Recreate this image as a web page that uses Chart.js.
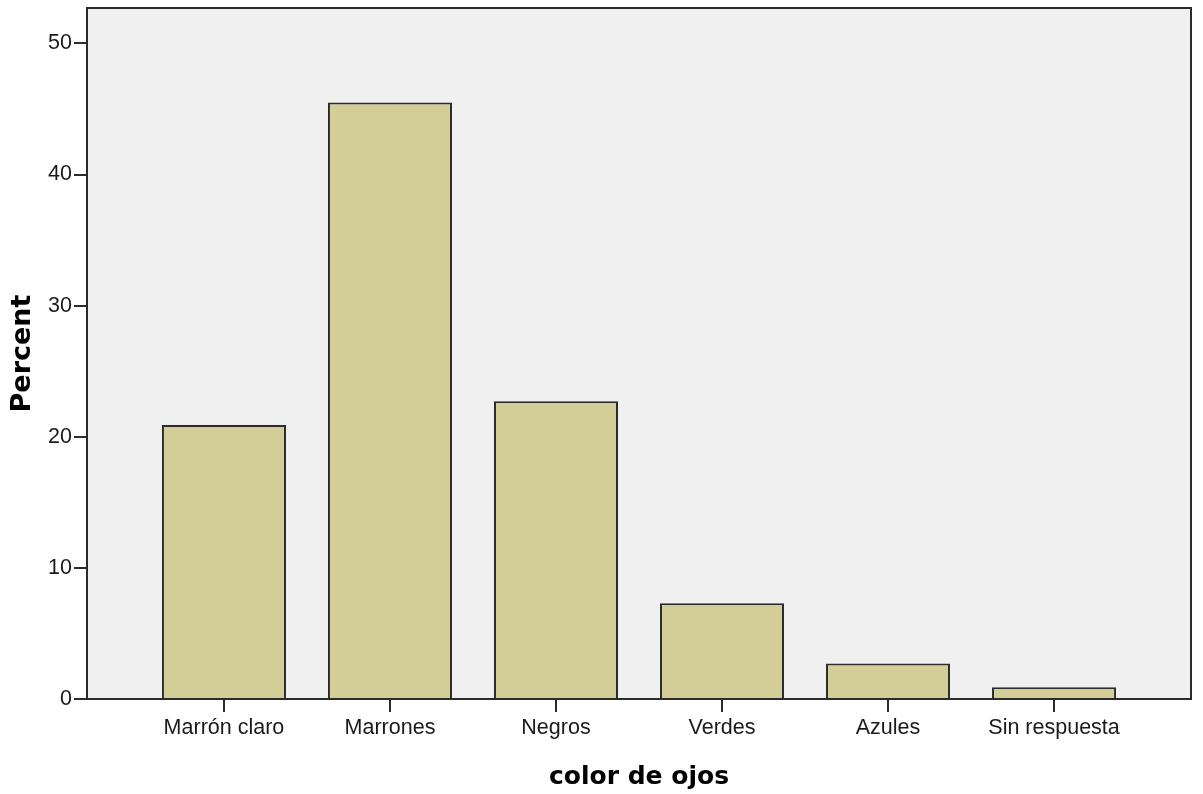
<!DOCTYPE html>
<html>
<head>
<meta charset="utf-8">
<script src="https://cdn.jsdelivr.net/npm/chart.js@4.4.1/dist/chart.umd.min.js"></script>
<style>
  html, body { margin: 0; padding: 0; background: #ffffff; }
  #wrap { width: 1203px; height: 794px; position: relative; }
</style>
</head>
<body>
<div id="wrap"><canvas id="c"></canvas></div>
<script>
const categories = ["Marrón claro", "Marrones", "Negros", "Verdes", "Azules", "Sin respuesta"];
const percentValues = [20.9, 45.5, 22.7, 7.3, 2.7, 0.9];
const yTickValues = [0, 10, 20, 30, 40, 50];
const xAxisTitle = "color de ojos";
const yAxisTitle = "Percent";

const boxPlugin = {
  id: 'boxPlugin',
  beforeDatasetsDraw(chart) {
    const a = chart.chartArea, ctx = chart.ctx;
    ctx.save();
    ctx.fillStyle = '#f0f0f0';
    ctx.fillRect(a.left, a.top, a.right - a.left, a.bottom - a.top);
    ctx.restore();
  },
  afterDatasetsDraw(chart) {
    const a = chart.chartArea, ctx = chart.ctx;
    ctx.save();
    ctx.strokeStyle = '#2b2b2b';
    ctx.lineWidth = 2;
    ctx.strokeRect(a.left, a.top, a.right - a.left, a.bottom - a.top);
    ctx.restore();
  }
};

const tickFont = { family: "'Liberation Sans', Arial, sans-serif", size: 21.5 };

new Chart(document.getElementById('c'), {
  type: 'bar',
  data: {
    datasets: [{
      data: categories.map((c, i) => ({ x: i, y: percentValues[i] })),
      backgroundColor: '#d3ce98',
      borderColor: '#2b2b2b',
      borderWidth: 2,
      barPercentage: 0.747,
      categoryPercentage: 1.0
    }]
  },
  options: {
    responsive: true,
    maintainAspectRatio: false,
    animation: false,
    layout: { padding: { top: 8, right: 12, left: 0, bottom: 0 } },
    plugins: { legend: { display: false }, tooltip: { enabled: false } },
    scales: {
      x: {
        type: 'linear',
        offset: false,
        min: -0.825,
        max: 5.825,
        afterBuildTicks: (axis) => { axis.ticks = categories.map((c, i) => ({ value: i })); },
        afterFit: (scale) => { scale.height = 95; scale.paddingLeft = 0; scale.paddingRight = 0; },
        border: { display: false },
        grid: { offset: false, drawOnChartArea: false, drawTicks: true, tickLength: 13, color: '#2b2b2b', lineWidth: 2 },
        ticks: {
          color: '#1a1a1a',
          font: tickFont,
          padding: 3,
          maxRotation: 0,
          autoSkip: false,
          callback: (v) => categories[v] !== undefined ? categories[v] : ''
        },
        title: { display: true, text: xAxisTitle, color: '#000',
                 font: { family: "'DejaVu Sans', sans-serif", size: 25, weight: 'bold' },
                 padding: { top: 0, bottom: 2 } }
      },
      y: {
        min: 0,
        max: 52.7,
        afterBuildTicks: (axis) => { axis.ticks = yTickValues.map(v => ({ value: v })); },
        afterFit: (scale) => { scale.width = 87; scale.paddingTop = 0; scale.paddingBottom = 0; },
        border: { display: false },
        grid: { drawOnChartArea: false, drawTicks: true, tickLength: 13, color: '#2b2b2b', lineWidth: 2 },
        ticks: { color: '#1a1a1a', font: tickFont, padding: 2 },
        title: { display: true, text: yAxisTitle, color: '#000',
                 font: { family: "'DejaVu Sans', sans-serif", size: 27, weight: 'bold' },
                 padding: { top: 7, bottom: 0 } }
      }
    }
  },
  plugins: [boxPlugin]
});
</script>
</body>
</html>
